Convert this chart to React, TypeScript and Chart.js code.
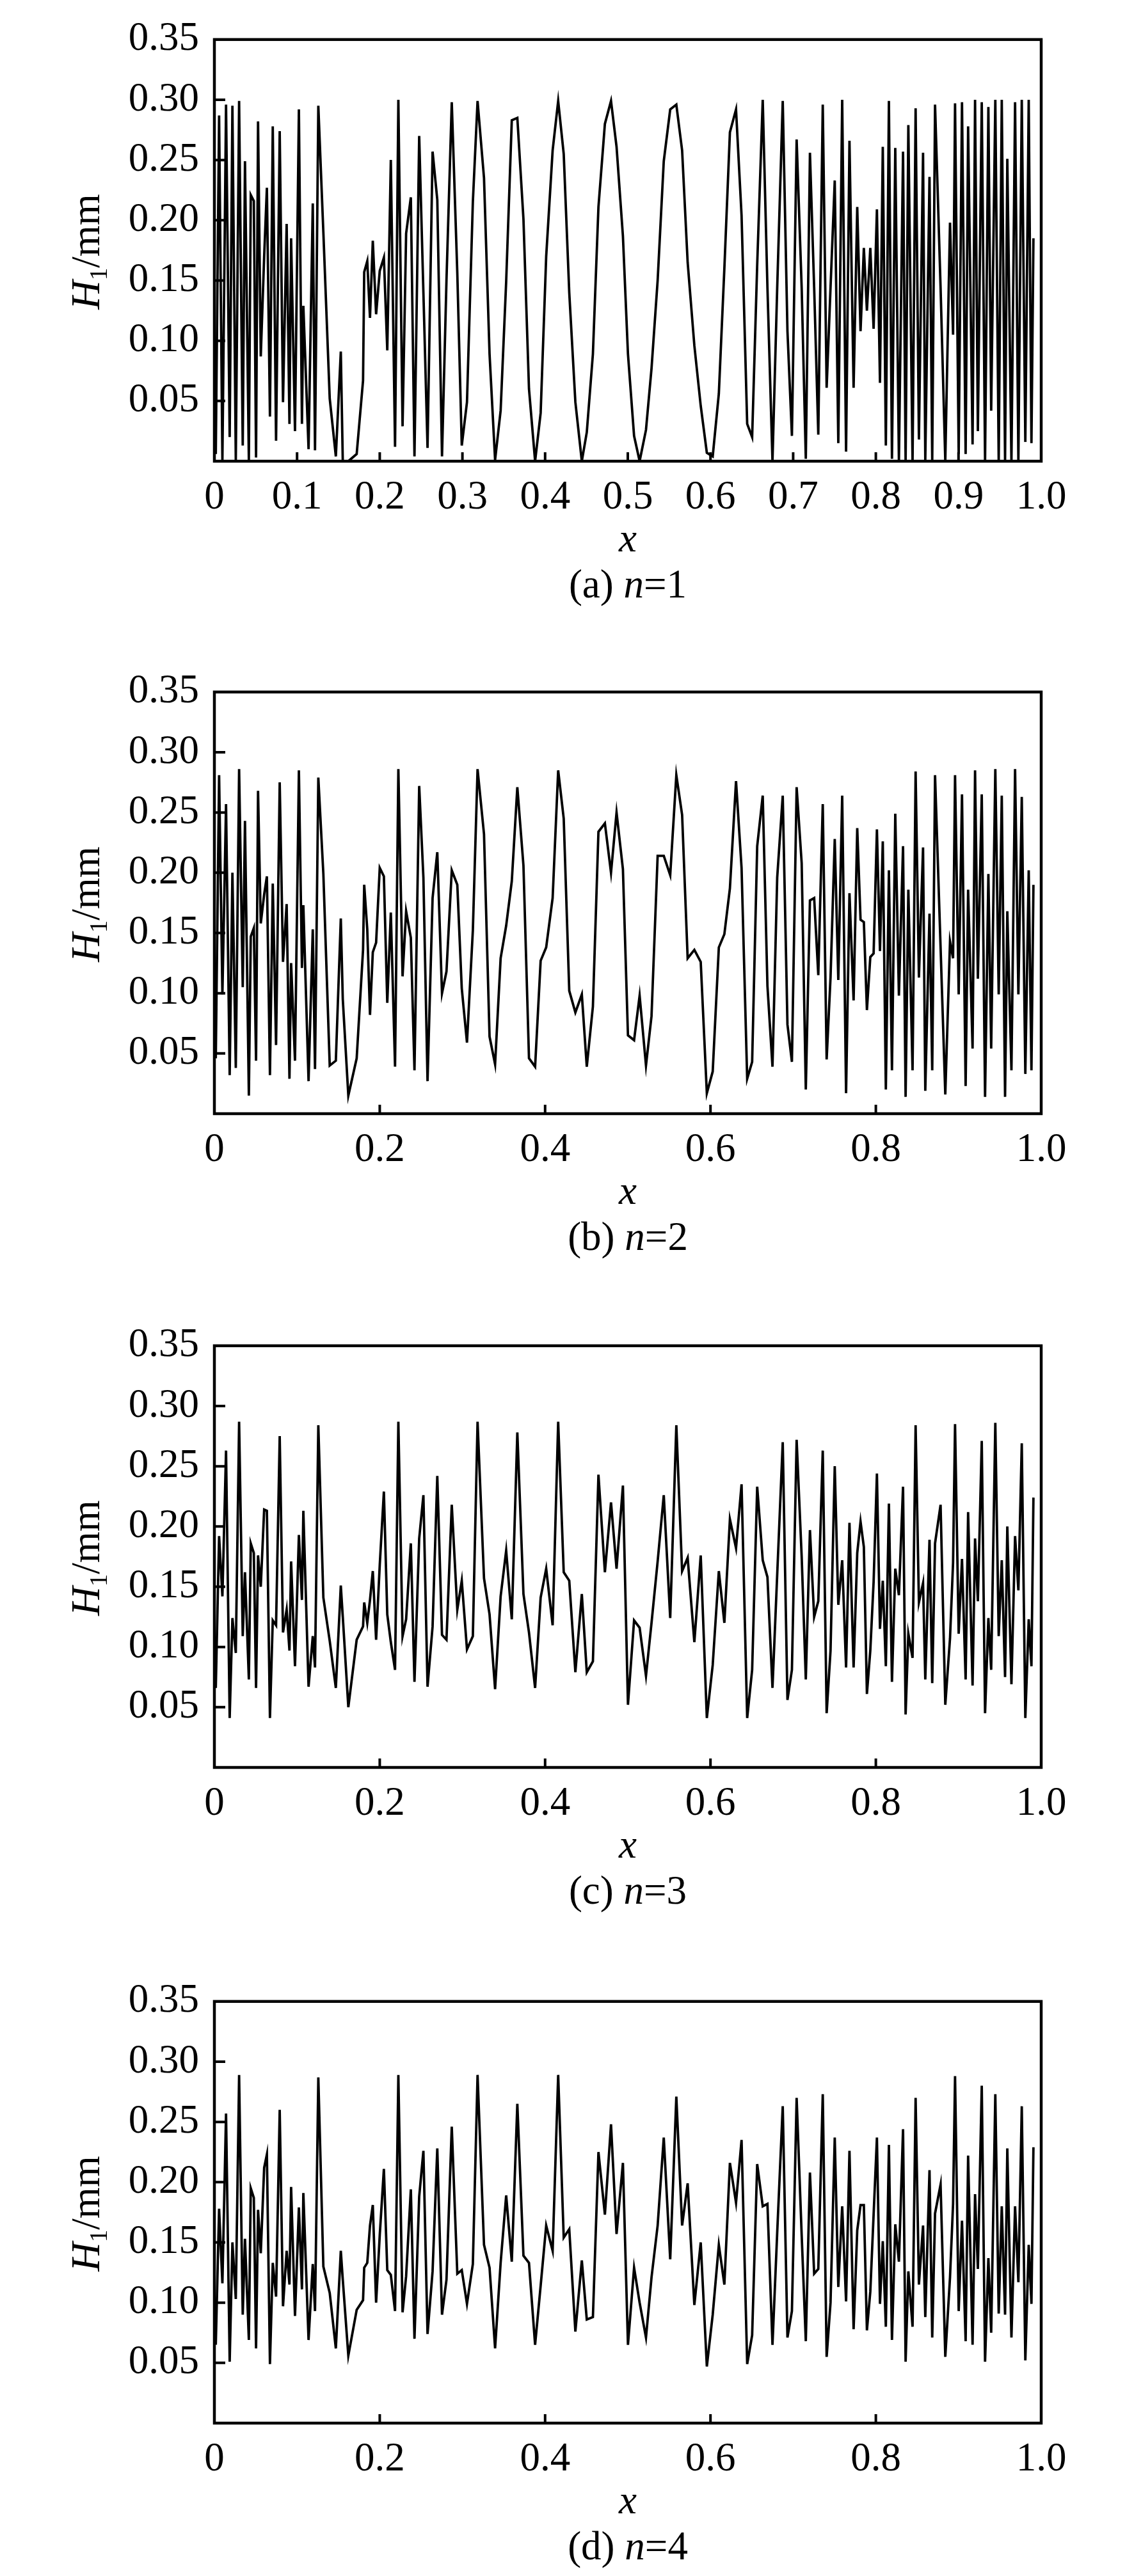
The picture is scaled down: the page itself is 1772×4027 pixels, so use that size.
import { useEffect, useRef } from 'react'
import { Chart, registerables } from 'chart.js'

Chart.register(...registerables)

// x positions of the samples (shared by all four panels, denser near both ends)
const X_POS = [
  0.0017, 0.0057, 0.0097, 0.0141, 0.0185, 0.0218, 0.0259, 0.0299, 0.0343, 0.037,
  0.0417, 0.044, 0.0477, 0.0504, 0.0528, 0.0561, 0.0602, 0.0635, 0.0672, 0.0706,
  0.0746, 0.079, 0.083, 0.0874, 0.0908, 0.0928, 0.0975, 0.1022, 0.1059, 0.1076,
  0.1139, 0.119, 0.1217, 0.1257, 0.1318, 0.1395, 0.1469, 0.1529, 0.1553, 0.162,
  0.1721, 0.1798, 0.1812, 0.1849, 0.1882, 0.1916, 0.1956, 0.2, 0.205, 0.2091,
  0.2134, 0.2185, 0.2225, 0.2276, 0.2319, 0.2376, 0.242, 0.2477, 0.2528, 0.2578,
  0.2639, 0.2696, 0.2753, 0.2807, 0.2871, 0.2938, 0.2992, 0.3055, 0.3126, 0.3183,
  0.3261, 0.3328, 0.3395, 0.3462, 0.3529, 0.3597, 0.3664, 0.3738, 0.3805, 0.3879,
  0.3946, 0.4013, 0.4091, 0.4158, 0.4225, 0.4292, 0.4366, 0.4444, 0.4504, 0.4578,
  0.4645, 0.4723, 0.4797, 0.4864, 0.4941,
  0.5002, 0.5076, 0.5143, 0.522, 0.5287, 0.5361, 0.5435, 0.5513, 0.5587, 0.5657,
  0.5724, 0.5805, 0.5882, 0.5956, 0.6027, 0.6101, 0.6168, 0.6235, 0.6309, 0.6376,
  0.6444, 0.6504, 0.6565, 0.6632, 0.6689, 0.675, 0.6807, 0.6874, 0.6931, 0.6985,
  0.7042, 0.7103, 0.7153, 0.7203, 0.7254, 0.7304, 0.7358, 0.7405, 0.7452, 0.7503,
  0.7546, 0.7593, 0.764, 0.7681, 0.7731, 0.7775, 0.7815, 0.7855, 0.7892, 0.7933,
  0.7973, 0.8013, 0.805, 0.8084, 0.8121, 0.8158, 0.8195, 0.8235, 0.8279, 0.8329,
  0.836, 0.8393, 0.8444, 0.8481, 0.8521, 0.8571, 0.8598, 0.8649, 0.8682, 0.8716,
  0.8783, 0.884, 0.8897, 0.8934, 0.8958, 0.9002, 0.9042, 0.9086, 0.9116, 0.917,
  0.92, 0.9234, 0.9281, 0.9321, 0.9361, 0.9395, 0.9445, 0.9486, 0.9523, 0.9563,
  0.959, 0.964, 0.9684, 0.9724, 0.9765, 0.9808, 0.9849, 0.9882, 0.9906,
]

// H1 (mm) for n = 1
const H1_N1 = [
  0.006, 0.287, 0.001, 0.296, 0.02, 0.295, 0.001, 0.299, 0.013, 0.249,
  0.001, 0.221, 0.216, 0.003, 0.282, 0.087, 0.17, 0.227, 0.037, 0.278,
  0.017, 0.274, 0.049, 0.197, 0.031, 0.185, 0.025, 0.292, 0.031, 0.129,
  0.01, 0.214, 0.009, 0.295, 0.19, 0.052, 0.004, 0.091, 0.0, 0.0,
  0.006, 0.067, 0.157, 0.166, 0.119, 0.183, 0.122, 0.158, 0.169, 0.092,
  0.25, 0.012, 0.3, 0.029, 0.189, 0.219, 0.004, 0.27, 0.14, 0.011,
  0.257, 0.217, 0.004, 0.15, 0.298, 0.156, 0.013, 0.049, 0.215, 0.299,
  0.235, 0.089, 0.001, 0.042, 0.149, 0.283, 0.285, 0.201, 0.06, 0.0,
  0.04, 0.17, 0.258, 0.299, 0.255, 0.14, 0.049, 0.0, 0.024, 0.089,
  0.211, 0.28, 0.299, 0.261, 0.187,
  0.089, 0.021, 0.0, 0.026, 0.077, 0.15, 0.249, 0.292, 0.296, 0.258,
  0.165, 0.096, 0.046, 0.007, 0.004, 0.056, 0.16, 0.273, 0.292, 0.204,
  0.031, 0.02, 0.163, 0.3, 0.144, 0.0, 0.144, 0.299, 0.108, 0.021,
  0.267, 0.144, 0.002, 0.256, 0.144, 0.022, 0.296, 0.061, 0.144, 0.233,
  0.015, 0.3, 0.008, 0.266, 0.061, 0.211, 0.108, 0.177, 0.125, 0.177,
  0.11, 0.209, 0.065, 0.261, 0.013, 0.299, 0.002, 0.26, 0.0, 0.257,
  0.0, 0.279, 0.0, 0.293, 0.018, 0.256, 0.001, 0.236, 0.001, 0.296,
  0.144, 0.0, 0.198, 0.105, 0.297, 0.006, 0.298, 0.006, 0.278, 0.014,
  0.3, 0.025, 0.298, 0.0, 0.294, 0.042, 0.3, 0.0, 0.3, 0.0,
  0.251, 0.0, 0.298, 0.001, 0.3, 0.016, 0.3, 0.015, 0.185,
]

// H1 (mm) for n = 2
const H1_N2 = [
  0.046, 0.281, 0.099, 0.257, 0.032, 0.2, 0.038, 0.286, 0.105, 0.243,
  0.015, 0.147, 0.154, 0.044, 0.268, 0.158, 0.182, 0.197, 0.032, 0.191,
  0.057, 0.275, 0.126, 0.174, 0.029, 0.125, 0.044, 0.285, 0.121, 0.173,
  0.027, 0.153, 0.037, 0.279, 0.199, 0.04, 0.044, 0.162, 0.095, 0.015,
  0.046, 0.136, 0.19, 0.153, 0.082, 0.134, 0.142, 0.204, 0.197, 0.092,
  0.167, 0.039, 0.286, 0.114, 0.168, 0.146, 0.036, 0.272, 0.196, 0.027,
  0.179, 0.217, 0.1, 0.118, 0.202, 0.19, 0.104, 0.059, 0.152, 0.286,
  0.232, 0.064, 0.041, 0.129, 0.156, 0.193, 0.271, 0.206, 0.046, 0.039,
  0.127, 0.138, 0.179, 0.285, 0.245, 0.102, 0.084, 0.099, 0.039, 0.089,
  0.234, 0.241, 0.2, 0.25, 0.203,
  0.065, 0.061, 0.098, 0.04, 0.081, 0.214, 0.214, 0.198, 0.281, 0.248,
  0.129, 0.136, 0.126, 0.017, 0.035, 0.138, 0.149, 0.187, 0.276, 0.204,
  0.029, 0.043, 0.222, 0.264, 0.106, 0.039, 0.196, 0.264, 0.074, 0.043,
  0.271, 0.208, 0.02, 0.177, 0.179, 0.115, 0.257, 0.045, 0.113, 0.228,
  0.111, 0.264, 0.017, 0.183, 0.094, 0.237, 0.161, 0.159, 0.086, 0.13,
  0.133, 0.236, 0.135, 0.226, 0.02, 0.202, 0.036, 0.249, 0.098, 0.222,
  0.014, 0.186, 0.036, 0.284, 0.113, 0.221, 0.019, 0.166, 0.036, 0.281,
  0.138, 0.016, 0.143, 0.129, 0.281, 0.099, 0.265, 0.023, 0.186, 0.054,
  0.285, 0.112, 0.265, 0.014, 0.199, 0.054, 0.286, 0.099, 0.264, 0.014,
  0.168, 0.036, 0.286, 0.099, 0.263, 0.033, 0.202, 0.036, 0.19,
]

// H1 (mm) for n = 3
const H1_N3 = [
  0.066, 0.192, 0.142, 0.263, 0.041, 0.124, 0.095, 0.287, 0.109, 0.162,
  0.073, 0.186, 0.178, 0.066, 0.176, 0.15, 0.214, 0.213, 0.041, 0.122,
  0.118, 0.275, 0.112, 0.131, 0.097, 0.171, 0.084, 0.193, 0.139, 0.213,
  0.067, 0.109, 0.083, 0.284, 0.141, 0.105, 0.066, 0.151, 0.125, 0.05,
  0.106, 0.117, 0.137, 0.12, 0.139, 0.163, 0.106, 0.168, 0.229, 0.127,
  0.104, 0.081, 0.287, 0.109, 0.123, 0.186, 0.071, 0.19, 0.226, 0.067,
  0.117, 0.242, 0.11, 0.106, 0.218, 0.131, 0.155, 0.098, 0.109, 0.287,
  0.157, 0.127, 0.065, 0.142, 0.18, 0.123, 0.278, 0.144, 0.112, 0.066,
  0.141, 0.165, 0.118, 0.287, 0.162, 0.155, 0.079, 0.144, 0.079, 0.088,
  0.243, 0.162, 0.22, 0.165, 0.234,
  0.052, 0.122, 0.116, 0.076, 0.12, 0.171, 0.226, 0.124, 0.284, 0.163,
  0.174, 0.104, 0.176, 0.041, 0.085, 0.163, 0.12, 0.206, 0.182, 0.235,
  0.041, 0.081, 0.233, 0.172, 0.158, 0.066, 0.16, 0.27, 0.056, 0.081,
  0.272, 0.175, 0.073, 0.197, 0.125, 0.138, 0.263, 0.045, 0.097, 0.25,
  0.135, 0.172, 0.083, 0.203, 0.083, 0.178, 0.204, 0.183, 0.061, 0.097,
  0.154, 0.244, 0.115, 0.155, 0.084, 0.219, 0.071, 0.165, 0.143, 0.233,
  0.044, 0.111, 0.091, 0.284, 0.137, 0.153, 0.073, 0.189, 0.07, 0.186,
  0.218, 0.052, 0.107, 0.17, 0.285, 0.111, 0.173, 0.073, 0.212, 0.068,
  0.19, 0.138, 0.271, 0.045, 0.124, 0.081, 0.286, 0.109, 0.172, 0.075,
  0.2, 0.069, 0.192, 0.147, 0.269, 0.041, 0.123, 0.084, 0.224,
]

// H1 (mm) for n = 4
const H1_N4 = [
  0.065, 0.178, 0.116, 0.257, 0.051, 0.15, 0.103, 0.289, 0.09, 0.153,
  0.069, 0.195, 0.187, 0.062, 0.177, 0.141, 0.212, 0.223, 0.049, 0.133,
  0.105, 0.26, 0.097, 0.143, 0.115, 0.196, 0.089, 0.179, 0.111, 0.191,
  0.069, 0.132, 0.093, 0.287, 0.13, 0.108, 0.062, 0.143, 0.119, 0.056,
  0.094, 0.102, 0.129, 0.133, 0.164, 0.181, 0.1, 0.156, 0.211, 0.127,
  0.123, 0.093, 0.289, 0.092, 0.122, 0.194, 0.07, 0.188, 0.226, 0.074,
  0.126, 0.228, 0.09, 0.119, 0.246, 0.124, 0.127, 0.099, 0.132, 0.289,
  0.148, 0.129, 0.062, 0.133, 0.189, 0.134, 0.265, 0.139, 0.133, 0.065,
  0.114, 0.164, 0.143, 0.289, 0.154, 0.161, 0.076, 0.135, 0.086, 0.088,
  0.225, 0.173, 0.248, 0.157, 0.216,
  0.065, 0.129, 0.1, 0.071, 0.121, 0.164, 0.237, 0.136, 0.271, 0.164,
  0.199, 0.098, 0.15, 0.047, 0.09, 0.148, 0.115, 0.216, 0.183, 0.235,
  0.049, 0.073, 0.215, 0.18, 0.182, 0.065, 0.158, 0.263, 0.071, 0.093,
  0.27, 0.156, 0.068, 0.208, 0.124, 0.128, 0.273, 0.055, 0.1, 0.237,
  0.113, 0.18, 0.101, 0.226, 0.078, 0.16, 0.181, 0.181, 0.077, 0.109,
  0.173, 0.237, 0.099, 0.151, 0.08, 0.231, 0.069, 0.165, 0.134, 0.244,
  0.051, 0.126, 0.08, 0.27, 0.115, 0.164, 0.088, 0.21, 0.071, 0.174,
  0.198, 0.055, 0.121, 0.182, 0.288, 0.093, 0.168, 0.068, 0.222, 0.065,
  0.19, 0.128, 0.28, 0.051, 0.137, 0.075, 0.273, 0.091, 0.18, 0.09,
  0.228, 0.071, 0.18, 0.117, 0.263, 0.052, 0.148, 0.099, 0.229,
]

const Y_TICKS = [0, 0.05, 0.1, 0.15, 0.2, 0.25, 0.3, 0.35]
const X_TICKS_FINE = [0, 0.1, 0.2, 0.3, 0.4, 0.5, 0.6, 0.7, 0.8, 0.9, 1.0]
const X_TICKS_COARSE = [0, 0.2, 0.4, 0.6, 0.8, 1.0]

const PANELS = [
  { tag: '(a)', n: '1', values: H1_N1, xTicks: X_TICKS_FINE, plotTop: 36 },
  { tag: '(b)', n: '2', values: H1_N2, xTicks: X_TICKS_COARSE, plotTop: 1056 },
  { tag: '(c)', n: '3', values: H1_N3, xTicks: X_TICKS_COARSE, plotTop: 2078 },
  { tag: '(d)', n: '4', values: H1_N4, xTicks: X_TICKS_COARSE, plotTop: 3103 },
]

// layout (page pixels)
const PAGE_W = 1772
const PAGE_H = 4027
const PLOT_LEFT = 335
const PLOT_RIGHT = 1627
const PLOT_H = 685
const PAD_TOP = 36
const BELOW = 170
const CANVAS_H = PAD_TOP + PLOT_H + BELOW
const SERIF = '"Liberation Serif", "Times New Roman", Times, serif'
const FONT_PX = 63

interface PanelProps {
  values: number[]
  xTicks: number[]
}

function Panel({ values, xTicks }: PanelProps) {
  const canvasRef = useRef<HTMLCanvasElement>(null)
  const chartRef = useRef<Chart | null>(null)

  useEffect(() => {
    if (!canvasRef.current) return
    if (chartRef.current) chartRef.current.destroy()
    const ctx = canvasRef.current.getContext('2d')
    if (!ctx) return

    // frame, inward ticks and axis titles
    const framePlugin = {
      id: 'frame',
      afterDraw(chart: any) {
        const c = chart.ctx as CanvasRenderingContext2D
        const a = chart.chartArea
        const xs = chart.scales.x
        const ys = chart.scales.y
        c.save()
        c.strokeStyle = '#000'
        c.lineWidth = 4.5
        c.strokeRect(a.left, a.top, a.right - a.left, a.bottom - a.top)
        c.lineWidth = 4
        c.beginPath()
        xTicks.forEach((v) => {
          if (v <= 0 || v >= 1) return
          const px = xs.getPixelForValue(v)
          c.moveTo(px, a.bottom)
          c.lineTo(px, a.bottom - 14)
        })
        Y_TICKS.forEach((v) => {
          if (v <= 0 || v >= 0.35) return
          const py = ys.getPixelForValue(v)
          c.moveTo(a.left, py)
          c.lineTo(a.left + 17, py)
        })
        c.stroke()

        c.fillStyle = '#000'
        c.textBaseline = 'alphabetic'
        // x title
        c.font = `italic ${FONT_PX}px ${SERIF}`
        c.textAlign = 'center'
        c.fillText('x', (a.left + a.right) / 2, a.bottom + 141)

        // y title: H1/mm, rotated
        c.textAlign = 'left'
        const big = `italic ${FONT_PX}px ${SERIF}`
        const sub = `${Math.round(FONT_PX * 0.62)}px ${SERIF}`
        const reg = `${FONT_PX}px ${SERIF}`
        c.font = big
        const wH = c.measureText('H').width
        c.font = sub
        const w1 = c.measureText('1').width
        c.font = reg
        const wR = c.measureText('/mm').width
        const total = wH + w1 + wR
        c.translate(155, (a.top + a.bottom) / 2 + 2)
        c.rotate(-Math.PI / 2)
        let x = -total / 2
        c.font = big
        c.fillText('H', x, 0)
        x += wH
        c.font = sub
        c.fillText('1', x, 12)
        x += w1
        c.font = reg
        c.fillText('/mm', x, 0)
        c.restore()
      },
    }

    chartRef.current = new Chart(ctx, {
      type: 'line',
      data: {
        datasets: [
          {
            data: X_POS.map((x, i) => ({ x, y: values[i] })),
            borderColor: '#000',
            borderWidth: 3.8,
            pointRadius: 0,
            tension: 0,
            fill: false,
          },
        ],
      },
      options: {
        responsive: false,
        animation: false,
        layout: { padding: { top: PAD_TOP, right: PAGE_W - PLOT_RIGHT, bottom: 0, left: 0 } },
        plugins: {
          legend: { display: false },
          tooltip: { enabled: false },
          title: { display: false },
        },
        scales: {
          x: {
            type: 'linear',
            min: 0,
            max: 1,
            afterBuildTicks: (scale: any) => {
              scale.ticks = xTicks.map((v) => ({ value: v }))
            },
            afterFit: (scale: any) => {
              scale.height = BELOW
            },
            grid: { display: false, drawTicks: false },
            border: { display: false },
            ticks: {
              padding: 20,
              color: '#000',
              maxRotation: 0,
              autoSkip: false,
              font: { family: SERIF, size: FONT_PX },
              callback: (v: any) => (Number(v) === 0 ? '0' : Number(v).toFixed(1)),
            },
          },
          y: {
            type: 'linear',
            min: 0,
            max: 0.35,
            afterBuildTicks: (scale: any) => {
              scale.ticks = Y_TICKS.map((v) => ({ value: v }))
            },
            afterFit: (scale: any) => {
              scale.width = PLOT_LEFT
            },
            grid: { display: false, drawTicks: false },
            border: { display: false },
            ticks: {
              padding: 24,
              color: '#000',
              autoSkip: false,
              font: { family: SERIF, size: FONT_PX },
              callback: (v: any) => (Number(v) === 0 ? '' : Number(v).toFixed(2)),
            },
          },
        },
      },
      plugins: [framePlugin],
    })

    return () => {
      if (chartRef.current) {
        chartRef.current.destroy()
        chartRef.current = null
      }
    }
  }, [values, xTicks])

  return (
    <canvas
      ref={canvasRef}
      width={PAGE_W}
      height={CANVAS_H}
      style={{ width: PAGE_W, height: CANVAS_H, display: 'block' }}
    ></canvas>
  )
}

export default function App() {
  return (
    <div
      style={{
        position: 'absolute',
        left: 0,
        top: 0,
        width: PAGE_W,
        height: PAGE_H,
        overflow: 'hidden',
        background: '#fff',
        fontFamily: SERIF,
      }}
    >
      {PANELS.map((p) => (
        <div key={p.tag}>
          <div style={{ position: 'absolute', left: 0, top: p.plotTop - PAD_TOP }}>
            <Panel values={p.values} xTicks={p.xTicks} />
          </div>
          <div
            style={{
              position: 'absolute',
              left: PLOT_LEFT,
              width: PLOT_RIGHT - PLOT_LEFT,
              top: p.plotTop + PLOT_H + 161,
              textAlign: 'center',
              fontSize: FONT_PX,
              lineHeight: `${FONT_PX}px`,
              color: '#000',
            }}
          >
            {p.tag} <i>n</i>={p.n}
          </div>
        </div>
      ))}
    </div>
  )
}
